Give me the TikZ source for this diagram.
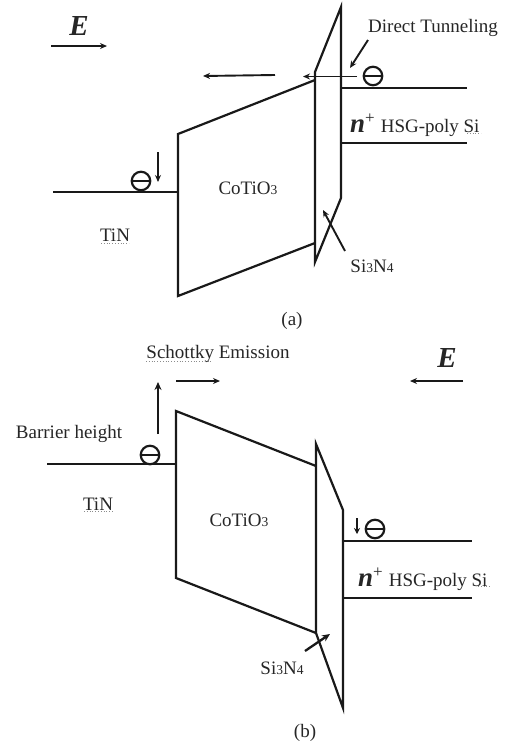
\documentclass[tikz,border=0pt]{standalone}
\usepackage{fontspec}
\setmainfont{Liberation Serif}
\usetikzlibrary{arrows.meta}
\newcommand{\sm}[1]{{\fontsize{13.5}{14}\selectfont #1}}
\newcommand{\bigE}{{\fontsize{29}{30}\selectfont\bfseries\itshape E}}
\newcommand{\nplus}{{\fontsize{27}{28}\selectfont\bfseries\itshape n}\raisebox{9pt}{\fontsize{17}{18}\selectfont +}}
\tikzset{
  x=1pt,y=-1pt,
  lbl/.style={inner sep=0pt,font=\fontsize{19}{20}\selectfont,text=black!85},
  band/.style={line width=2.2pt,line join=miter,black!90},
  lvl/.style={line width=2.2pt,black!90},
  lvlthick/.style={line width=2.7pt,black!90},
  arr/.style={line width=1.9pt,black!90,-{Stealth[length=7pt,width=6pt]}},
  arrbig/.style={line width=2.3pt,black!90,-{Stealth[length=8pt,width=7pt]}},
  electron/.style={circle,draw,line width=2.2pt,minimum size=18.5pt,inner sep=0pt,black!90},
  bar/.style={line width=2pt,black!90},
  spell/.style={line width=0.8pt,dotted,black!45}
}
\begin{document}
\begin{tikzpicture}
\useasboundingbox (0,0) rectangle (505,745);
\fill[white] (0,0) rectangle (505,745);

% ---------- (a) ----------
\node[lbl] (Ea) at (79,26) {\bigE};
\coordinate (Ea1) at (51,46); \coordinate (Ea2) at (107,46);
\draw[arr,line width=1.4pt] (Ea1) -- (Ea2);

\draw[band] (315,80) -- (178,134) -- (178,296) -- (315,243);
\draw[band] (341,7) -- (341,198) -- (315,262) -- (315,72) -- cycle;

\coordinate (La1) at (53,192); \coordinate (La2) at (178,192);
\draw[lvl] (La1) -- (La2);
\coordinate (Ra1) at (341,88); \coordinate (Ra2) at (467,88);
\draw[lvl,line width=1.7pt] (Ra1) -- (Ra2);
\coordinate (Rb1) at (341,143); \coordinate (Rb2) at (467,143);
\draw[lvlthick] (Rb1) -- (Rb2);

\node[electron] (ea1) at (141,181) {};
\draw[bar] (ea1.west) -- (ea1.east);
\node[electron] (ea2) at (373,76) {};
\draw[bar] (ea2.west) -- (ea2.east);

\coordinate (da1) at (158,152); \coordinate (da2) at (158,182);
\draw[arr] (da1) -- (da2);
\coordinate (la1) at (275,75); \coordinate (la2) at (203,76);
\draw[arr] (la1) -- (la2);
\coordinate (lb1) at (357,76.5);  \coordinate (lb2) at (303,76.5);
\draw[arr] (lb1) -- (lb2);
\coordinate (ta1) at (368,40); \coordinate (ta2) at (350,68);
\draw[arr] (ta1) -- (ta2);
\coordinate (sa1) at (345,251); \coordinate (sa2) at (323,210);
\draw[arr] (sa1) -- (sa2);

\node[lbl] (dt) at (433,28) {Direct Tunneling};
\node[lbl,anchor=base west] (hsga) at (350,132) {\nplus\hspace{6pt}HSG-poly Si};
\node[lbl] (ctoa) at (248,188) {CoTiO\sm{3}};
\node[lbl] (tina) at (115,235) {TiN};
\node[lbl] (sina) at (372,266) {Si\sm{3}N\sm{4}};
\node[lbl] (capa) at (292,321) {(a)};
\draw[spell] (101,243) -- (129,243);
\draw[spell] (467,133) -- (481,133);

% ---------- (b) ----------
\node[lbl] (sch) at (218,354) {Schottky Emission};
\node[lbl] (Eb) at (447,358) {\bigE};
\coordinate (Eb1) at (463,381); \coordinate (Eb2) at (410,381);
\draw[arr] (Eb1) -- (Eb2);
\coordinate (sb1) at (176,381); \coordinate (sb2) at (220,381);
\draw[arr] (sb1) -- (sb2);
\coordinate (ub1) at (158,434); \coordinate (ub2) at (158,382);
\draw[arrbig] (ub1) -- (ub2);

\draw[band] (316,466) -- (176,411) -- (176,578) -- (316,633);
\draw[band] (316,444) -- (343,510) -- (343,708) -- (316,633) -- cycle;

\coordinate (Lb1) at (47,464); \coordinate (Lb2) at (176,464);
\draw[lvl] (Lb1) -- (Lb2);
\coordinate (Rc1) at (343,541); \coordinate (Rc2) at (472,541);
\draw[lvl] (Rc1) -- (Rc2);
\coordinate (Rd1) at (343,598); \coordinate (Rd2) at (472,598);
\draw[lvl] (Rd1) -- (Rd2);

\node[electron] (eb1) at (150,455) {};
\draw[bar] (eb1.west) -- (eb1.east);
\node[electron] (eb2) at (375,529) {};
\draw[bar] (eb2.west) -- (eb2.east);

\coordinate (db1) at (357,518); \coordinate (db2) at (357,534);
\draw[arr,-{Stealth[length=6pt,width=6pt]}] (db1) -- (db2);
\coordinate (sc1) at (305,651); \coordinate (sc2) at (330,634);
\draw[arrbig] (sc1) -- (sc2);

\node[lbl] (bh) at (69,434) {Barrier height};
\node[lbl] (tinb) at (98,504) {TiN};
\node[lbl] (ctob) at (239,520) {CoTiO\sm{3}};
\node[lbl,anchor=base west] (hsgb) at (358,586) {\nplus\hspace{6pt}HSG-poly Si};
\node[lbl] (sinb) at (282,668) {Si\sm{3}N\sm{4}};
\node[lbl] (capb) at (305,733) {(b)};
\draw[spell] (146,361) -- (213,361);
\draw[spell] (84,511) -- (113,511);
\draw[spell] (478,586) -- (491,586);
\end{tikzpicture}
\end{document}
